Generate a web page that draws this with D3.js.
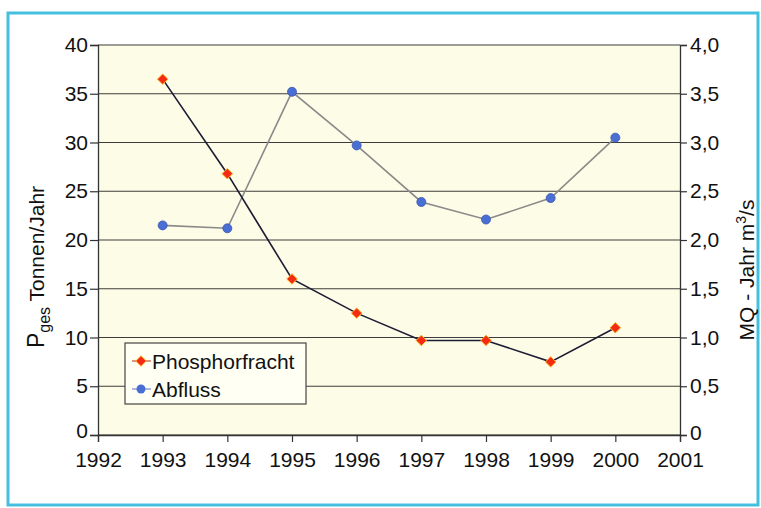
<!DOCTYPE html>
<html>
<head>
<meta charset="utf-8">
<script src="https://cdn.jsdelivr.net/npm/d3@7"></script>
<style>
  body { margin: 0; background: #fff; }
  svg { font-family: "Liberation Sans", Arial, sans-serif; }
</style>
</head>
<body>
<div id="graph-container"></div>
<script>
// Data
const years = [1993, 1994, 1995, 1996, 1997, 1998, 1999, 2000];
const phosphorfracht = [36.5, 26.8, 16.0, 12.5, 9.7, 9.7, 7.5, 11.0];   // t/Jahr
const abfluss = [2.15, 2.12, 3.52, 2.97, 2.39, 2.21, 2.43, 3.05];       // m3/s
const xTicks = d3.range(1992, 2002);
const leftTicks = [0, 5, 10, 15, 20, 25, 30, 35, 40];
const rightTicks = [0, 0.5, 1, 1.5, 2, 2.5, 3, 3.5, 4];

const W = 761, H = 508;
const plot = { left: 98, right: 680, top: 45, bottom: 435 };

const x = d3.scaleLinear().domain([1992, 2001]).range([plot.left, plot.right]);
const yL = d3.scaleLinear().domain([0, 40]).range([plot.bottom, plot.top]);
const yR = d3.scaleLinear().domain([0, 4]).range([plot.bottom, plot.top]);

const svg = d3.select("#graph-container")
  .append("svg")
    .attr("width", W)
    .attr("height", H);

// outer cyan frame
svg.append("rect")
  .attr("x", 8).attr("y", 13)
  .attr("width", 750).attr("height", 492)
  .attr("fill", "none")
  .attr("stroke", "#45bfe0")
  .attr("stroke-width", 3);

// plot background
svg.append("rect")
  .attr("x", plot.left).attr("y", plot.top)
  .attr("width", plot.right - plot.left)
  .attr("height", plot.bottom - plot.top)
  .attr("fill", "#fdfce6");

// gridlines
svg.append("g")
  .selectAll("line")
  .data(leftTicks)
  .join("line")
    .attr("x1", plot.left).attr("x2", plot.right)
    .attr("y1", d => yL(d)).attr("y2", d => yL(d))
    .attr("stroke", "#3c3c3c")
    .attr("stroke-width", 1.2);

// axes
const leftAxis = svg.append("g")
  .attr("transform", `translate(${plot.left},0)`)
  .call(d3.axisLeft(yL).tickValues(leftTicks).tickSize(8).tickPadding(2));

const rightAxis = svg.append("g")
  .attr("transform", `translate(${plot.right},0)`)
  .call(d3.axisRight(yR).tickValues(rightTicks).tickSize(7).tickPadding(3)
    .tickFormat(d => d === 0 ? "0" : d3.format(".1f")(d).replace(".", ",")));

const bottomAxis = svg.append("g")
  .attr("transform", `translate(0,${plot.bottom})`)
  .call(d3.axisBottom(x).tickValues(xTicks).tickSize(7).tickPadding(10)
    .tickFormat(d3.format("d")));

[leftAxis, rightAxis, bottomAxis].forEach(g => {
  g.select(".domain").attr("stroke", "#333").attr("stroke-width", 1.3);
  g.selectAll(".tick line").attr("stroke", "#333").attr("stroke-width", 1.2);
  g.selectAll(".tick text")
    .attr("fill", "#111")
    .style("font-size", "21px")
    .style("font-family", "Liberation Sans, Arial, sans-serif");
});
// zero labels sit a bit above the baseline
leftAxis.selectAll(".tick text").filter(d => d === 0).attr("dy", "0.1em");
rightAxis.selectAll(".tick text").filter(d => d === 0).attr("dy", "0.2em");

// Abfluss line (right axis)
const lineR = d3.line().x((d, i) => x(years[i])).y(d => yR(d));
svg.append("path")
  .datum(abfluss)
  .attr("fill", "none")
  .attr("stroke", "#8a8a8a")
  .attr("stroke-width", 1.6)
  .attr("d", lineR);

// Phosphorfracht line (left axis)
const lineL = d3.line().x((d, i) => x(years[i])).y(d => yL(d));
svg.append("path")
  .datum(phosphorfracht)
  .attr("fill", "none")
  .attr("stroke", "#1c1c34")
  .attr("stroke-width", 1.6)
  .attr("d", lineL);

const diamond = d3.symbol().type(d3.symbolDiamond2).size(70);

svg.append("g")
  .selectAll("circle")
  .data(abfluss)
  .join("circle")
    .attr("cx", (d, i) => x(years[i]))
    .attr("cy", d => yR(d))
    .attr("r", 4.5)
    .attr("fill", "#4a6fd4")
    .attr("stroke", "#3a55b0")
    .attr("stroke-width", 0.8);

svg.append("g")
  .selectAll("path")
  .data(phosphorfracht)
  .join("path")
    .attr("transform", (d, i) => `translate(${x(years[i])},${yL(d)})`)
    .attr("d", diamond)
    .attr("fill", "#f42a12")
    .attr("stroke", "#ffb020")
    .attr("stroke-width", 1);

// legend
const legend = svg.append("g").attr("transform", "translate(125,343)");
legend.append("rect")
  .attr("width", 181).attr("height", 61)
  .attr("fill", "#fffff4")
  .attr("stroke", "#444")
  .attr("stroke-width", 1.2);

const legendItems = [
  { name: "Phosphorfracht", color: "#f42a12", line: "#c86040", type: "diamond" },
  { name: "Abfluss", color: "#4a6fd4", line: "#8090d0", type: "circle" }
];
legendItems.forEach((it, i) => {
  const gy = 18 + i * 28;
  legend.append("line")
    .attr("x1", 7).attr("x2", 26)
    .attr("y1", gy).attr("y2", gy)
    .attr("stroke", it.line).attr("stroke-width", 1.3);
  if (it.type === "diamond") {
    legend.append("path")
      .attr("transform", `translate(16,${gy})`)
      .attr("d", diamond)
      .attr("fill", it.color)
      .attr("stroke", "#ffb020");
  } else {
    legend.append("circle")
      .attr("cx", 16).attr("cy", gy).attr("r", 4.5)
      .attr("fill", it.color);
  }
  legend.append("text")
    .attr("x", 27).attr("y", gy + 7.5)
    .style("font-size", "21px")
    .attr("fill", "#111")
    .text(it.name);
});

// axis titles
const leftTitle = svg.append("text")
  .attr("transform", "translate(44,267) rotate(-90)")
  .attr("text-anchor", "middle")
  .style("font-size", "21px")
  .attr("fill", "#111");
leftTitle.append("tspan").style("font-size", "23px").text("P");
leftTitle.append("tspan").attr("dy", 6).style("font-size", "16px").text("ges");
leftTitle.append("tspan").attr("dy", -6).text(" Tonnen/Jahr");

const rightTitle = svg.append("text")
  .attr("transform", "translate(754,270) rotate(-90)")
  .attr("text-anchor", "middle")
  .style("font-size", "21px")
  .attr("fill", "#111");
rightTitle.append("tspan").text("MQ - Jahr m");
rightTitle.append("tspan").attr("dy", -8).style("font-size", "14px").text("3");
rightTitle.append("tspan").attr("dy", 8).text("/s");
</script>
</body>
</html>
